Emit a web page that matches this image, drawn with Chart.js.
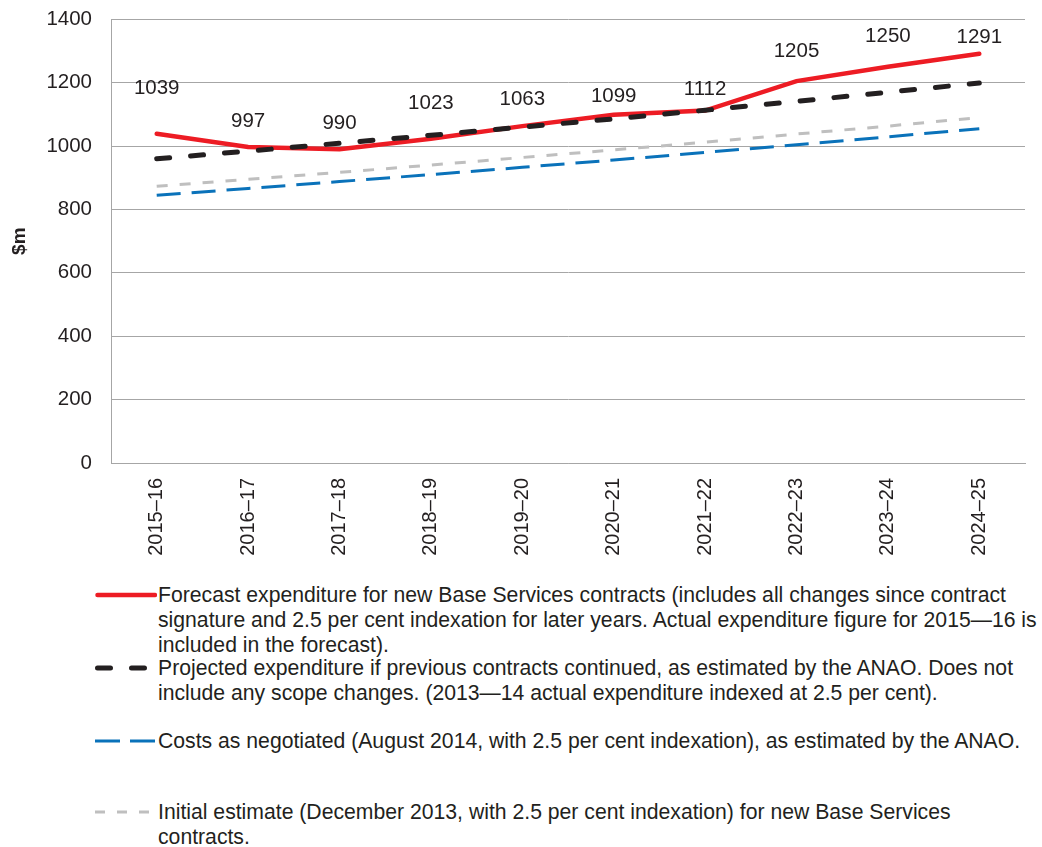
<!DOCTYPE html>
<html>
<head>
<meta charset="utf-8">
<script src="https://cdn.jsdelivr.net/npm/chart.js@4/dist/chart.umd.min.js"></script>
<style>
  body { margin: 0; background: #fff; font-family: "Liberation Sans", Arial, sans-serif; color: #231F20; overflow: hidden; }
  #wrap { position: relative; width: 1042px; height: 847px; overflow: hidden; }
  #chartBox { position: absolute; left: 0; top: -12px; width: 1042px; height: 582px; }
  .entry { position: absolute; left: 95px; display: flex; align-items: flex-start; }
  .entry svg { flex: none; margin-top: 6px; }
  .entry .txt { font-size: 21.2px; line-height: 25px; white-space: nowrap; margin-left: 1px; }
</style>
</head>
<body>
<div id="wrap">
  <div id="chartBox"><canvas id="chart"></canvas></div>
  <div id="legend"></div>
</div>
<script>
const categories = ['2015–16', '2016–17', '2017–18', '2018–19', '2019–20', '2020–21', '2021–22', '2022–23', '2023–24', '2024–25'];
const forecast = [1039, 997, 990, 1023, 1063, 1099, 1112, 1205, 1250, 1291];
const previousContracts = [960, 984, 1009, 1034, 1060, 1086, 1113, 1141, 1170, 1199];
const negotiated = [845, 866, 888, 910, 933, 956, 980, 1004, 1029, 1055];
const initialEstimate = [873, 895, 917, 940, 964, 988, 1012, 1038, 1063, 1090];

const seriesNames = [
  ['Forecast expenditure for new Base Services contracts (includes all changes since contract',
   'signature and 2.5 per cent indexation for later years. Actual expenditure figure for 2015—16 is',
   'included in the forecast).'],
  ['Projected expenditure if previous contracts continued, as estimated by the ANAO. Does not',
   'include any scope changes. (2013—14 actual expenditure indexed at 2.5 per cent).'],
  ['Costs as negotiated (August 2014, with 2.5 per cent indexation), as estimated by the ANAO.'],
  ['Initial estimate (December 2013, with 2.5 per cent indexation) for new Base Services',
   'contracts.']
];

const textColor = '#231F20';
const gridColor = '#A6A6A6';
const fontFamily = '"Liberation Sans", Arial, sans-serif';
// how far (px) each value label sits above its point, as placed in the original
const labelLift = [45, 26, 26, 35, 27, 18, 21, 30, 30, 17];

// value labels above the forecast line
const pointLabels = {
  id: 'pointLabels',
  afterDatasetsDraw(chart) {
    const ctx = chart.ctx;
    const meta = chart.getDatasetMeta(0);
    ctx.save();
    ctx.font = '20.5px ' + fontFamily;
    ctx.fillStyle = textColor;
    ctx.textAlign = 'center';
    ctx.textBaseline = 'middle';
    meta.data.forEach((pt, i) => {
      ctx.fillText(forecast[i], pt.x, pt.y - labelLift[i]);
    });
    ctx.restore();
  }
};

const ctx = document.getElementById('chart').getContext('2d');
new Chart(ctx, {
  type: 'line',
  data: {
    labels: categories,
    datasets: [
      { data: forecast, borderColor: '#ED1C24', borderWidth: 4.5, order: 2, borderCapStyle: 'round' },
      { data: previousContracts, borderColor: '#231F20', borderWidth: 5, borderDash: [13, 21], borderCapStyle: 'round', order: 1 },
      { data: negotiated, borderColor: '#0A72BA', borderWidth: 3, borderDash: [24, 11], order: 3 },
      { data: initialEstimate, borderColor: '#BFBFBF', borderWidth: 3, borderDash: [11, 12], order: 4 }
    ]
  },
  options: {
    responsive: true,
    maintainAspectRatio: false,
    animation: false,
    elements: { point: { radius: 0 }, line: { tension: 0 } },
    layout: { padding: { top: 7, right: 17, left: 0, bottom: 0 } },
    plugins: { legend: { display: false }, tooltip: { enabled: false } },
    scales: {
      x: {
        offset: true,
        grid: { display: false },
        border: { display: true, color: gridColor },
        ticks: {
          color: textColor,
          font: { size: 20, family: fontFamily },
          minRotation: 90, maxRotation: 90, padding: 7
        },
        afterFit(scale) { scale.height = 107; }
      },
      y: {
        min: 0, max: 1400,
        grid: { color: gridColor, drawTicks: false },
        border: { display: true, color: gridColor },
        ticks: {
          stepSize: 200, color: textColor, padding: 19,
          font: { size: 20.5, family: fontFamily },
          callback: (v) => String(v)
        },
        title: {
          display: true, text: '$m', color: textColor, padding: { top: 8, bottom: 0 },
          font: { size: 19, weight: 'bold', family: fontFamily }
        },
        afterFit(scale) { scale.width = 111; }
      }
    }
  },
  plugins: [pointLabels]
});

// legend below the chart
const swatches = [
  { color: '#ED1C24', width: 4.5, dash: '', cap: 'round' },
  { color: '#231F20', width: 5, dash: '13 21', cap: 'round' },
  { color: '#0A72BA', width: 3, dash: '25 10', cap: 'butt' },
  { color: '#BFBFBF', width: 3, dash: '10 12', cap: 'butt' }
];
const entryTops = [582, 655, 728, 799];
const legend = document.getElementById('legend');
seriesNames.forEach((lines, i) => {
  const s = swatches[i];
  const div = document.createElement('div');
  div.className = 'entry';
  div.style.top = entryTops[i] + 'px';
  const x1 = s.cap === 'round' ? 2.5 : 0;
  div.innerHTML =
    '<svg width="62" height="14"><line x1="' + x1 + '" y1="7" x2="60" y2="7" stroke="' + s.color +
    '" stroke-width="' + s.width + '" stroke-linecap="' + s.cap + '"' +
    (s.dash ? ' stroke-dasharray="' + s.dash + '"' : '') + '/></svg>' +
    '<div class="txt">' + lines.join('<br>') + '</div>';
  legend.appendChild(div);
});
</script>
</body>
</html>
